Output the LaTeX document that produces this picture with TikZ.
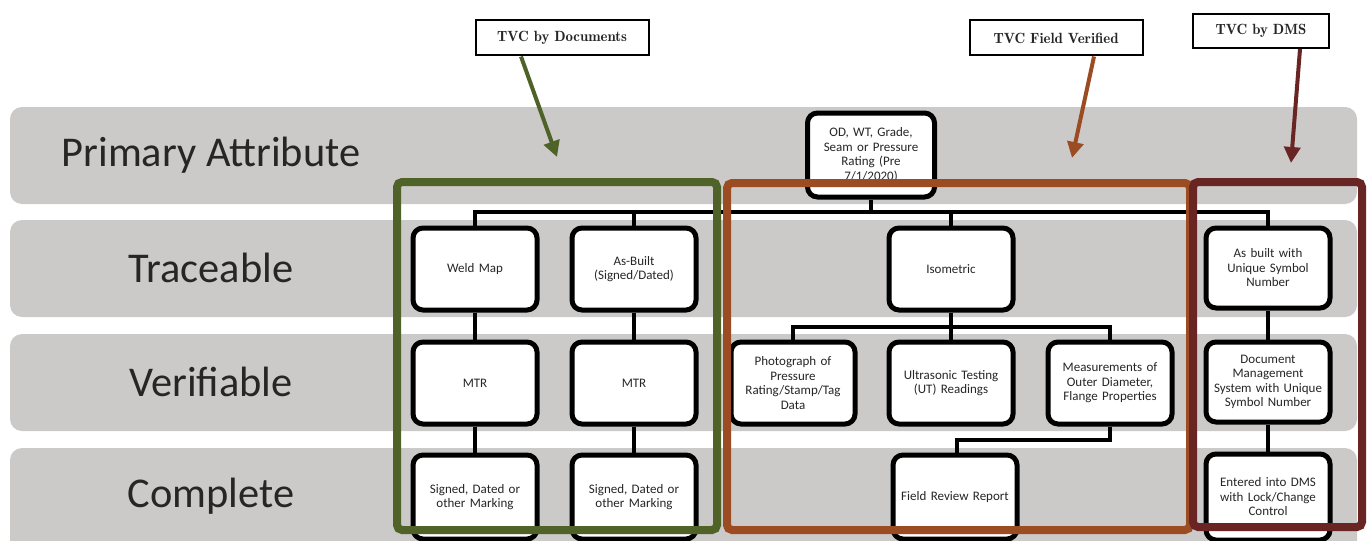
\documentclass[tikz,border=0pt]{standalone}
\usepackage{fontspec}
\setmainfont{Carlito}
\usetikzlibrary{arrows.meta}
\definecolor{bandgray}{RGB}{203,202,201}
\definecolor{txtgray}{RGB}{38,38,38}
\definecolor{tvcgreen}{RGB}{79,98,40}
\definecolor{tvcorange}{RGB}{156,76,34}
\definecolor{tvcred}{RGB}{105,37,35}
\tikzset{
  band/.style={fill=bandgray, rounded corners=6pt},
  rowlabel/.style={text=txtgray, font=\fontsize{21.2}{25}\selectfont},
  item/.style={draw=black, fill=white, line width=2.5pt, rounded corners=5pt,
    minimum width=62pt, minimum height=41pt, inner sep=1pt, align=center,
    text width=60pt, text=txtgray, font=\fontsize{6.5}{7.25}\selectfont},
  link/.style={draw=black, line width=2.4pt},
  frame/.style={line width=4pt, rounded corners=2.5pt},
  callout/.style={draw=black, fill=white, line width=1pt, minimum width=86.5pt,
    minimum height=17.5pt, inner sep=1pt, text=txtgray,
    font=\fontfamily{lmr}\bfseries\fontsize{7.4}{9}\selectfont},
  pointer/.style={line width=2pt, -{Triangle[width=8pt,length=8pt]}}
}
\begin{document}
\begin{tikzpicture}[x=0.5pt,y=-0.5pt]
\useasboundingbox (0,0) rectangle (1368,540);
\clip (0,0) rectangle (1368,540);
% bands
\fill[band] (10,107) rectangle (1357,204);
\fill[band] (10,220) rectangle (1357,317);
\fill[band] (10,334) rectangle (1357,431);
\fill[band] (10,448) rectangle (1357,570);
\node[rowlabel] (lpa) at (211,155) {Primary Attribute};
\node[rowlabel] (ltr) at (211,268) {Traceable};
\node[rowlabel] (lve) at (211,382) {Verifiable};
\node[rowlabel] (lco) at (211,496) {Complete};
% coordinates for buses
\coordinate (b1) at (871,212);
\coordinate (b2) at (951,327);
\coordinate (b3) at (1110,440);
% node positions
\path
  (871,155) coordinate (ptop)
  (475,269) coordinate (pwm)
  (634,269) coordinate (pasb)
  (951,269) coordinate (piso)
  (1268,268) coordinate (pusn)
  (475,383) coordinate (pm1)
  (634,383) coordinate (pm2)
  (793,383) coordinate (pph)
  (951,383) coordinate (put)
  (1110,383) coordinate (pme)
  (1268,382) coordinate (pdoc)
  (475,497) coordinate (ps1)
  (634,497) coordinate (ps2)
  (955,497) coordinate (pfrr)
  (1268,497) coordinate (pent);
\node[item, minimum width=63.5pt, minimum height=42pt] (top) at (ptop) {OD, WT, Grade,\\ Seam or Pressure\\ Rating (Pre\\ 7/1/2020)};
\node[item] (wm) at (pwm) {Weld Map};
\node[item] (asb) at (pasb) {As-Built\\ (Signed/Dated)};
\node[item] (iso) at (piso) {Isometric};
\node[item, minimum width=61pt, minimum height=40pt] (usn) at (pusn) {As built with\\ Unique Symbol\\ Number};
\node[item] (m1) at (pm1) {MTR};
\node[item] (m2) at (pm2) {MTR};
\node[item] (ph) at (pph) {Photograph of\\ Pressure\\ Rating/Stamp/Tag\\ Data};
\node[item] (ut) at (put) {Ultrasonic Testing\\ (UT) Readings};
\node[item] (me) at (pme) {Measurements of\\ Outer Diameter,\\ Flange Properties};
\node[item, minimum width=61pt, minimum height=40pt] (doc) at (pdoc) {Document\\ Management\\ System with Unique\\ Symbol Number};
\node[item, minimum height=42pt] (s1) at (ps1) {Signed, Dated or\\ other Marking};
\node[item, minimum height=42pt] (s2) at (ps2) {Signed, Dated or\\ other Marking};
\node[item, minimum height=42pt] (frr) at (pfrr) {Field Review Report};
\node[item, minimum width=61pt, minimum height=43pt] (ent) at (pent) {Entered into DMS\\ with Lock/Change\\ Control};
% connectors
\draw[link] (top.south) -- (b1);
\draw[link] (wm.north) |- (b1) -| (usn.north);
\draw[link] (asb.north) -- (asb.north |- b1);
\draw[link] (iso.north) -- (iso.north |- b1);
\draw[link] (iso.south) -- (b2);
\draw[link] (ph.north) |- (b2) -| (me.north);
\draw[link] (ut.north) -- (b2);
\draw[link] (wm.south) -- (m1.north);
\draw[link] (m1.south) -- (s1.north);
\draw[link] (asb.south) -- (m2.north);
\draw[link] (m2.south) -- (s2.north);
\draw[link] (usn.south) -- (doc.north);
\draw[link] (doc.south) -- (ent.north);
\draw[link] (me.south) -- (b3) -| ([xshift=1pt]frr.north);
% frames
\draw[frame, tvcgreen] (397,182) rectangle (717,530);
\draw[frame, tvcorange] (727,183) rectangle (1190,530);
\draw[frame, tvcred] (1193,182) rectangle (1362,527);
% callouts
\node[callout] (cdoc) at (562,38) {TVC by Documents};
\node[callout] (cfv) at (1056,38) {TVC Field Verified};
\node[callout, minimum width=68pt, minimum height=17pt] (cdms) at (1261,31) {TVC by DMS};
\coordinate (tg) at (557,157);
\coordinate (to) at (1072,158);
\coordinate (tr) at (1291,163);
\draw[pointer, tvcgreen] ([xshift=-20.5pt]cdoc.south) -- (tg);
\draw[pointer, tvcorange] ([xshift=19pt]cfv.south) -- (to);
\draw[pointer, tvcred] ([xshift=19.5pt]cdms.south) -- (tr);
\end{tikzpicture}
\end{document}
